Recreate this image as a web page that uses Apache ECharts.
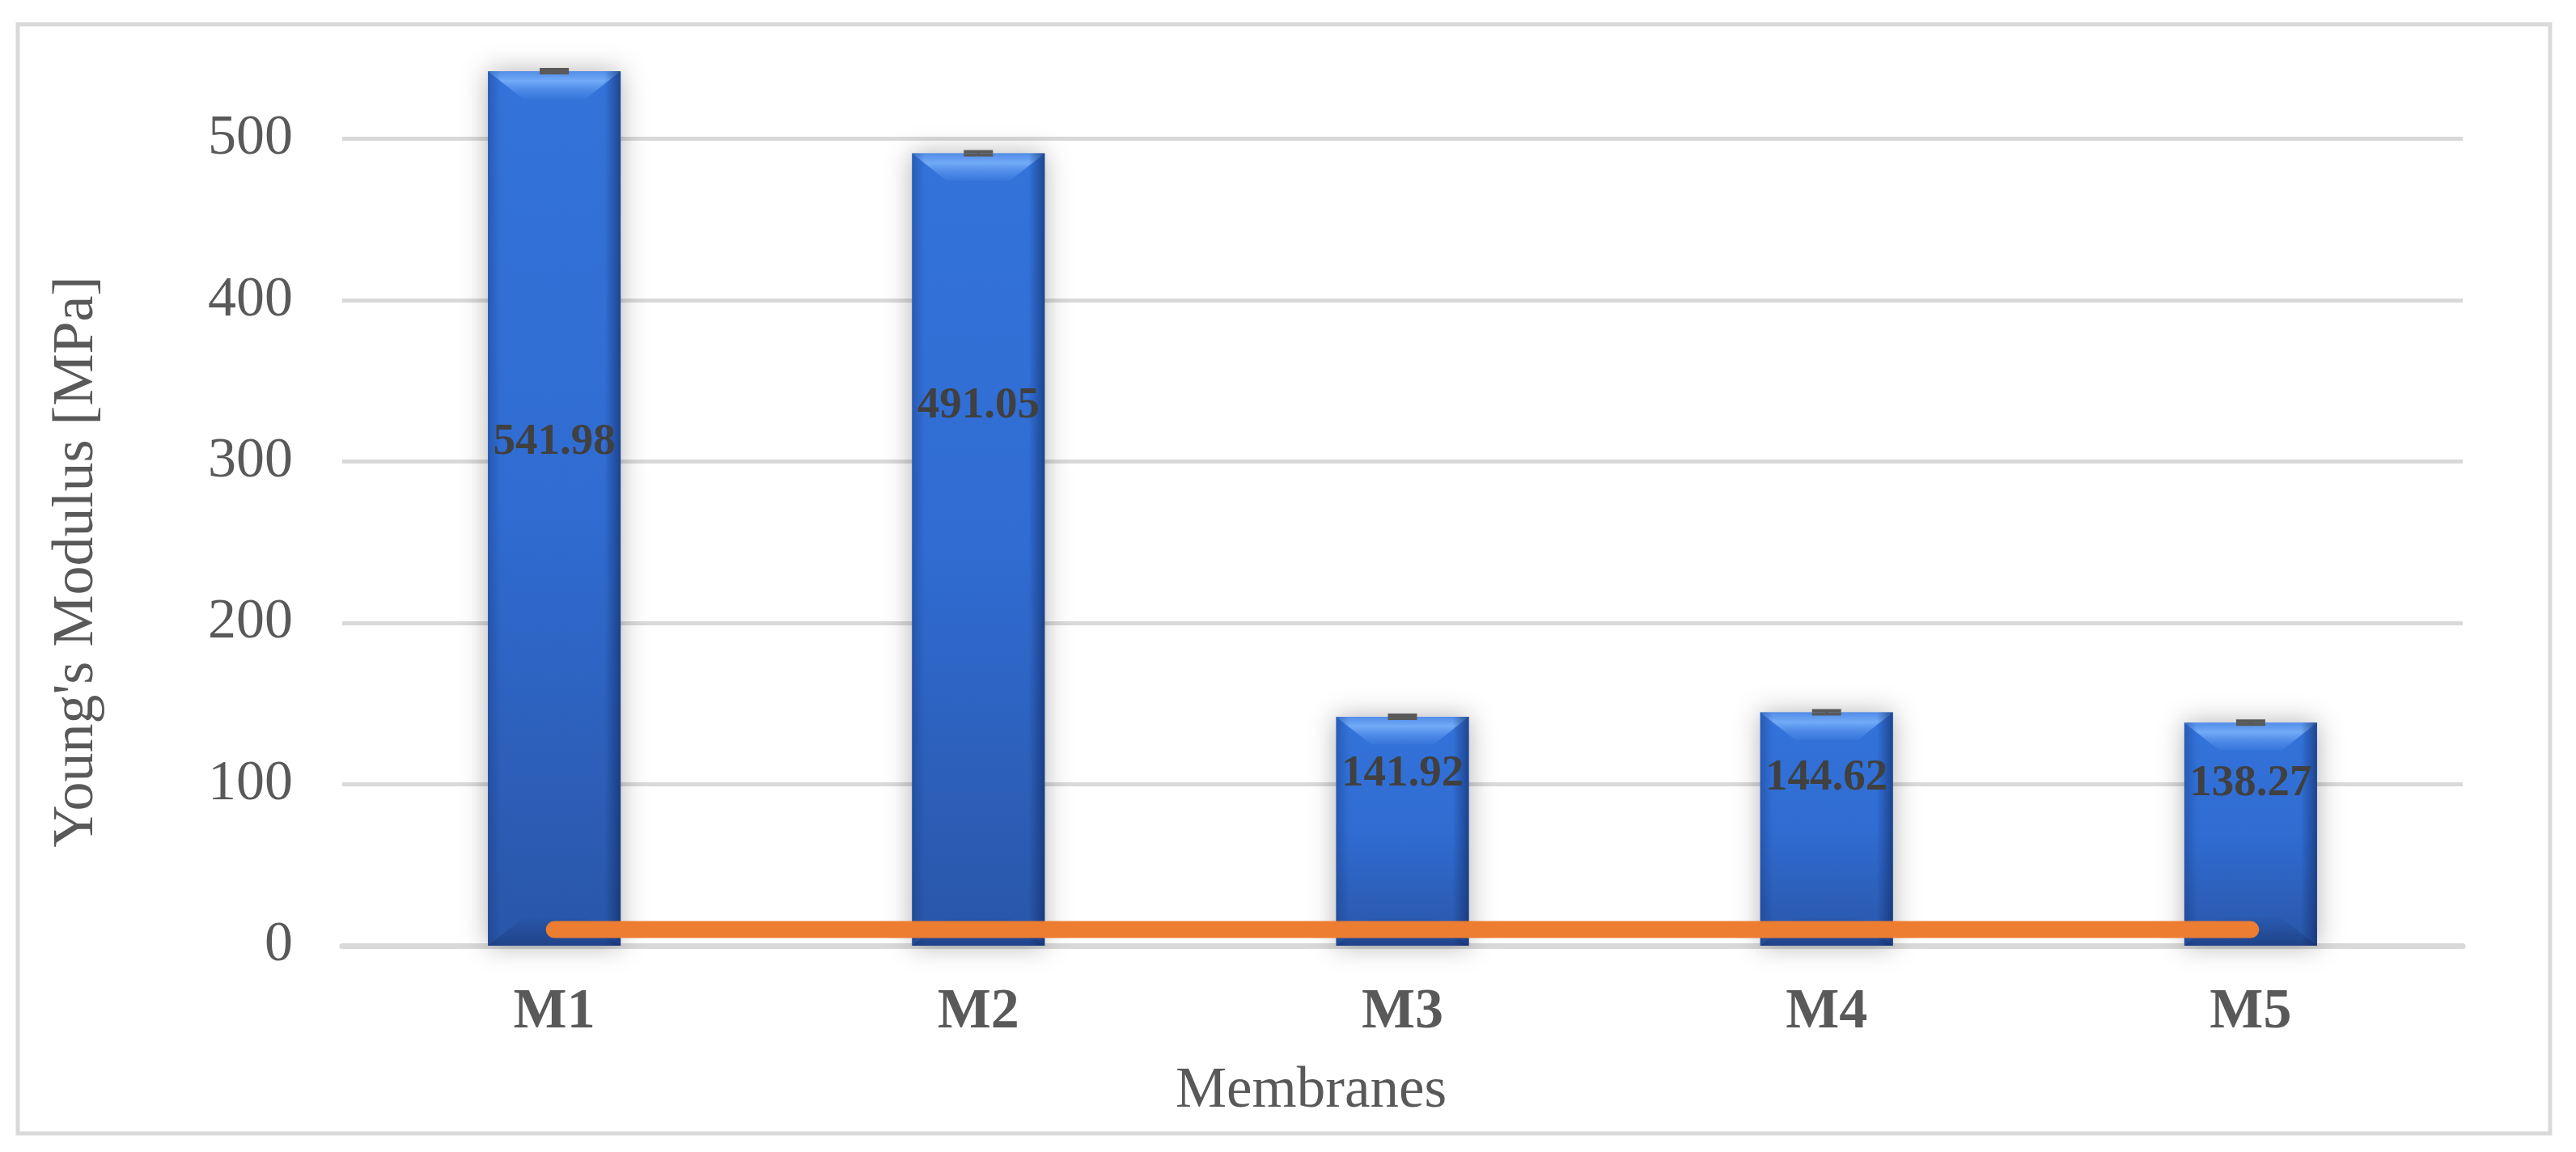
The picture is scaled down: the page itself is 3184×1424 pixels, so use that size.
<!DOCTYPE html>
<html>
<head>
<meta charset="utf-8">
<script src="https://cdn.jsdelivr.net/npm/echarts@6/dist/echarts.min.js"></script>
<style>
  html, body { margin: 0; padding: 0; background: #fff; }
  #chart { width: 3184px; height: 1424px; }
</style>
</head>
<body>
<div id="chart"></div>
<script>
// data
const membranes = ["M1", "M2", "M3", "M4", "M5"];
const youngsModulus = [541.98, 491.05, 141.92, 144.62, 138.27];
const modulusError = [1.0, 1.0, 1.0, 1.0, 1.0];
const lowerLine = [10, 10, 10, 10, 10];

// label placement inside each bar (px below the bar top), set by hand in the original
const labelDrop = [459, 312, 71, 81, 76];

const FONT = "'Liberation Serif', 'Times New Roman', serif";
const BAR_RATIO = 0.313;

let chart = echarts.init(document.getElementById("chart"));

function barBox(api) {
  let i = api.value(0);
  let top = api.coord([i, api.value(1)]);
  let base = api.coord([i, 0]);
  let w = api.size([1, 0])[0] * BAR_RATIO;
  return { i: i, cx: top[0], x0: top[0] - w / 2, x1: top[0] + w / 2, yTop: top[1], yBot: base[1], w: w };
}

function renderBevel(params, api) {
  let b = barBox(api);
  let d = 43, dv = 34;
  return {
    type: "group",
    children: [
      {
        // top bevel
        type: "polygon",
        shape: { points: [[b.x0, b.yTop], [b.x1, b.yTop], [b.x1 - d, b.yTop + dv], [b.x0 + d, b.yTop + dv]] },
        style: {
          fill: new echarts.graphic.LinearGradient(0, 0, 0, 1, [
            { offset: 0, color: "rgba(110,165,245,0.55)" },
            { offset: 0.35, color: "rgba(130,185,255,0.8)" },
            { offset: 1, color: "rgba(90,150,240,0.15)" },
          ]),
        },
      },
      {
        // left edge
        type: "rect",
        shape: { x: b.x0, y: b.yTop, width: 16, height: b.yBot - b.yTop },
        style: {
          fill: new echarts.graphic.LinearGradient(0, 0, 1, 0, [
            { offset: 0, color: "rgba(20,50,115,0.35)" },
            { offset: 1, color: "rgba(20,50,115,0)" },
          ]),
        },
      },
      {
        // right edge
        type: "rect",
        shape: { x: b.x1 - 20, y: b.yTop, width: 20, height: b.yBot - b.yTop },
        style: {
          fill: new echarts.graphic.LinearGradient(0, 0, 1, 0, [
            { offset: 0, color: "rgba(15,40,95,0)" },
            { offset: 1, color: "rgba(15,40,95,0.6)" },
          ]),
        },
      },
      {
        // bottom bevel
        type: "polygon",
        shape: { points: [[b.x0, b.yBot], [b.x1, b.yBot], [b.x1 - d, b.yBot - dv], [b.x0 + d, b.yBot - dv]] },
        style: {
          fill: new echarts.graphic.LinearGradient(0, 0, 0, 1, [
            { offset: 0, color: "rgba(20,50,110,0.05)" },
            { offset: 1, color: "rgba(20,45,100,0.45)" },
          ]),
        },
      },
      {
        type: "text",
        x: b.cx,
        y: b.yTop + labelDrop[b.i],
        z2: 20,
        style: {
          text: api.value(1).toFixed(2),
          fill: "#404040",
          fontFamily: FONT,
          fontWeight: "bold",
          fontSize: 55,
          align: "center",
          verticalAlign: "middle",
        },
      },
    ],
  };
}

function renderError(params, api) {
  let i = api.value(0);
  let hi = api.coord([i, api.value(1) + api.value(2)]);
  let lo = api.coord([i, api.value(1) - api.value(2)]);
  let cw = 18;
  let style = { stroke: "#595959", lineWidth: 4 };
  return {
    type: "group",
    children: [
      { type: "line", shape: { x1: hi[0], y1: hi[1], x2: lo[0], y2: lo[1] }, style: style },
      { type: "line", shape: { x1: hi[0] - cw, y1: hi[1], x2: hi[0] + cw, y2: hi[1] }, style: style },
      { type: "line", shape: { x1: lo[0] - cw, y1: lo[1], x2: lo[0] + cw, y2: lo[1] }, style: style },
    ],
  };
}

let option = {
  animation: false,
  backgroundColor: "#fff",
  graphic: [
    {
      type: "rect",
      shape: { x: 22, y: 30, width: 3130, height: 1371 },
      style: { fill: "none", stroke: "#d9d9d9", lineWidth: 5 },
      silent: true,
    },
  ],
  grid: { left: 423, right: 140, top: 72, bottom: 255 },
  xAxis: {
    type: "category",
    data: membranes,
    axisTick: { show: false },
    axisLine: { lineStyle: { color: "#d9d9d9", width: 7 } },
    axisLabel: { fontFamily: FONT, fontWeight: "bold", fontSize: 70, color: "#595959", margin: 48 },
    name: "Membranes",
    nameLocation: "middle",
    nameGap: 145,
    nameTextStyle: { fontFamily: FONT, fontSize: 71, color: "#595959", padding: [0, 226, 0, 0] },
  },
  yAxis: {
    type: "value",
    min: 0,
    max: 550,
    interval: 100,
    axisLine: { show: false },
    axisTick: { show: false },
    splitLine: { show: true, showMaxLine: false, lineStyle: { color: "#d9d9d9", width: 5 } },
    axisLabel: { fontFamily: FONT, fontSize: 70, color: "#595959", margin: 61, showMaxLabel: false },
    name: "Young's Modulus [MPa]",
    nameLocation: "middle",
    nameRotate: 90,
    nameGap: 292,
    nameTextStyle: { fontFamily: FONT, fontSize: 72, color: "#595959", padding: [0, 148, 0, 0] },
  },
  series: [
    {
      name: "Young's Modulus",
      type: "bar",
      data: youngsModulus,
      barWidth: (BAR_RATIO * 100).toFixed(1) + "%",
      z: 2,
      itemStyle: {
        color: new echarts.graphic.LinearGradient(0, 0, 0, 1, [
          { offset: 0, color: "#3373da" },
          { offset: 0.5, color: "#306cd2" },
          { offset: 1, color: "#2956a8" },
        ]),
        shadowBlur: 30,
        shadowColor: "rgba(0,0,0,0.3)",
      },
    },
    {
      name: "bevel",
      type: "custom",
      z: 3,
      data: youngsModulus.map((v, i) => [i, v]),
      encode: { x: 0, y: 1 },
      renderItem: renderBevel,
    },
    {
      name: "error",
      type: "custom",
      z: 4,
      data: youngsModulus.map((v, i) => [i, v, modulusError[i]]),
      encode: { x: 0, y: 1 },
      renderItem: renderError,
    },
    {
      name: "line",
      type: "line",
      z: 5,
      data: lowerLine,
      symbol: "none",
      lineStyle: { color: "#ED7D31", width: 21, cap: "round" },
    },
  ],
};
chart.setOption(option);
</script>
</body>
</html>
